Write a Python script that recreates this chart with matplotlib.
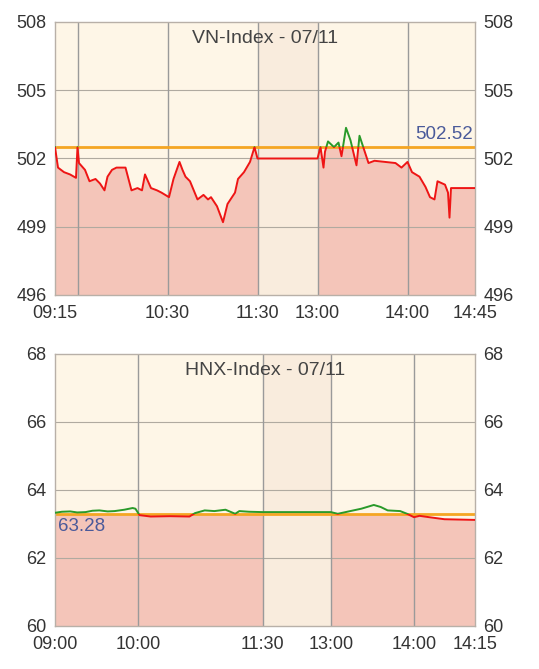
import numpy as np
import matplotlib.pyplot as plt
from matplotlib.patches import Rectangle

plt.rcParams['font.family'] = ['Liberation Sans', 'DejaVu Sans']

# VN-Index intraday
vn_title = 'VN-Index - 07/11'
vn_ref = 502.52
vn_times = ['09:15', '09:17', '09:21', '09:25', '09:29', '09:30', '09:31', '09:35', '09:38',
            '09:42', '09:45', '09:48', '09:50', '09:53', '09:56', '10:02', '10:06', '10:10',
            '10:13', '10:15', '10:19', '10:23', '10:26', '10:31', '10:34', '10:38', '10:40',
            '10:42', '10:45', '10:50', '10:54', '10:57', '10:59', '11:03', '11:07', '11:10',
            '11:15', '11:17', '11:21', '11:25', '11:28', '11:30',
            '13:00', '13:02', '13:04', '13:05', '13:07', '13:11', '13:14', '13:16', '13:19',
            '13:22', '13:26', '13:28', '13:32', '13:34', '13:38', '13:45', '13:52', '13:56',
            '14:00', '14:03', '14:08', '14:12', '14:15', '14:18', '14:20', '14:25', '14:27',
            '14:28', '14:29', '14:33', '14:45']
vn_values = [502.5, 501.6, 501.4, 501.3, 501.15, 502.5, 501.8, 501.5, 501.0,
             501.1, 500.9, 500.6, 501.2, 501.5, 501.6, 501.6, 500.6, 500.7,
             500.6, 501.3, 500.7, 500.6, 500.5, 500.3, 501.1, 501.85, 501.5,
             501.2, 501.0, 500.2, 500.4, 500.2, 500.3, 499.9, 499.2, 500.0,
             500.5, 501.1, 501.4, 501.85, 502.5, 502.0,
             502.0, 502.5, 501.6, 502.3, 502.75, 502.5, 502.7, 502.1, 503.35,
             502.8, 501.7, 503.0, 502.2, 501.8, 501.9, 501.85, 501.8, 501.6,
             501.85, 501.4, 501.2, 500.75, 500.3, 500.2, 501.0, 500.85, 500.5,
             499.4, 500.7, 500.7, 500.7]
vn_ticks = ['09:15', '10:30', '11:30', '13:00', '14:00', '14:45']
vn_vgrid = ['09:30', '10:30', '11:30', '13:00', '14:00']
vn_yticks = [496, 499, 502, 505, 508]

# HNX-Index intraday
hnx_title = 'HNX-Index - 07/11'
hnx_ref = 63.28
hnx_times = ['09:00', '09:05', '09:11', '09:16', '09:22', '09:27', '09:32', '09:38', '09:43',
             '09:50', '09:56', '09:58', '10:01', '10:09', '10:23', '10:37', '10:41', '10:48',
             '10:55', '11:03', '11:10', '11:13', '11:20', '11:30',
             '13:00', '13:05', '13:14', '13:22', '13:31', '13:36', '13:41', '13:50', '13:55',
             '14:00', '14:04', '14:11', '14:22', '14:44']
hnx_values = [63.33, 63.36, 63.37, 63.34, 63.35, 63.39, 63.40, 63.37, 63.38,
              63.42, 63.47, 63.45, 63.26, 63.22, 63.23, 63.22, 63.32, 63.40,
              63.38, 63.42, 63.30, 63.38, 63.36, 63.35,
              63.35, 63.30, 63.38, 63.45, 63.56, 63.50, 63.40, 63.38, 63.30,
              63.20, 63.24, 63.20, 63.14, 63.12]
hnx_ticks = ['09:00', '10:00', '11:30', '13:00', '14:00', '14:15']
hnx_vgrid = ['10:00', '11:30', '13:00', '14:00']
hnx_yticks = [60, 62, 64, 66, 68]

BG = '#fef6e7'
LUNCH = '#f9ecdd'
FILL = '#f4c5b9'
RED = '#ee1515'
GREEN = '#2a9a2a'
ORANGE = '#f5a623'
GRID = '#9a9a9a'
TXT = '#333333'


def minutes(t):
    h, m = t.split(':')
    return int(h) * 60 + int(m)


def make_pos(start, gap):
    def pos(t):
        v = minutes(t) - minutes(start)
        if minutes(t) >= minutes('13:00'):
            v -= 90 - gap
        return v
    return pos


def panel(ax, title, ref, times, values, ticks, vgrid, yticks, start, end, gap,
          ref_left):
    pos = make_pos(start, gap)
    x = np.array([pos(t) for t in times], dtype=float)
    y = np.array(values)
    x0, x1 = 0, pos(end)
    y0, y1 = yticks[0], yticks[-1]
    ax.set_xlim(x0, x1)
    ax.set_ylim(y0, y1)
    ax.set_facecolor(BG)
    ax.axvspan(pos('11:30'), pos('13:00'), color=LUNCH, lw=0, zorder=0)

    below = Rectangle((x0, y0), x1 - x0, ref - y0, transform=ax.transData)
    above = Rectangle((x0, ref), x1 - x0, y1 - ref, transform=ax.transData)
    for m in [x <= pos('11:30'), x >= pos('13:00')]:
        f = ax.fill_between(x[m], y0, y[m], color=FILL, lw=0, zorder=1)
        f.set_clip_path(below)

    for yt in yticks[1:-1]:
        ax.axhline(yt, color='#b0aaa0', lw=0.8, zorder=1.5)
    for t in vgrid:
        ax.axvline(pos(t), color=GRID, lw=1.0, zorder=1.5)

    ax.axhline(ref, color=ORANGE, lw=2, zorder=2)
    lr, = ax.plot(x, y, color=RED, lw=1.4, zorder=3)
    lr.set_clip_path(below)
    lg, = ax.plot(x, y, color=GREEN, lw=1.4, zorder=3)
    lg.set_clip_path(above)

    ax.text(0.5, 0.972, title, transform=ax.transAxes, ha='center', va='top',
            color='#444444', fontsize=14)
    if ref_left:
        ax.text(x0 + (x1 - x0) * 0.007, ref - (y1 - y0) * 0.012, f'{ref:.2f}',
                ha='left', va='top', color='#4a5a9a', fontsize=13.5)
    else:
        ax.text(x1 - (x1 - x0) * 0.005, ref + (y1 - y0) * 0.015, f'{ref:.2f}',
                ha='right', va='bottom', color='#4a5a9a', fontsize=13.5)

    ax.set_xticks([pos(t) for t in ticks[:-1]] + [x1])
    ax.set_xticklabels(ticks)
    ax.set_yticks(yticks)
    ax.set_yticklabels([str(v) for v in yticks])
    ax.tick_params(axis='both', length=0, labelsize=13, colors=TXT)
    ax.tick_params(axis='x', pad=7)
    ax.tick_params(axis='y', labelright=True, pad=6)
    for lab in ax.get_yticklabels() + ax.get_yticklabels(which='major'):
        lab.set_va('center_baseline')
    for lab in ax.yaxis.get_majorticklabels():
        lab.set_va('center_baseline')
    for s in ax.spines.values():
        s.set_color('#b8b0a8')
        s.set_linewidth(1.0)


fig = plt.figure(figsize=(5.39, 6.69), dpi=100)
ax1 = fig.add_axes([55 / 539, 1 - 295 / 669, 420 / 539, 273 / 669])
ax2 = fig.add_axes([55 / 539, 1 - 626 / 669, 420 / 539, 272 / 669])

panel(ax1, vn_title, vn_ref, vn_times, vn_values, vn_ticks, vn_vgrid, vn_yticks,
      '09:15', '14:45', 40, False)
panel(ax2, hnx_title, hnx_ref, hnx_times, hnx_values, hnx_ticks, hnx_vgrid, hnx_yticks,
      '09:00', '14:44', 49, True)

fig.savefig('out.png', dpi=100)
